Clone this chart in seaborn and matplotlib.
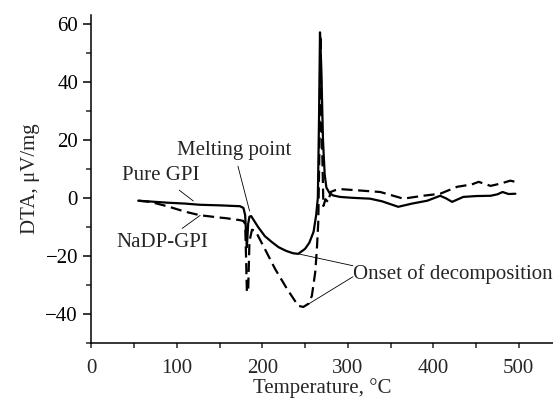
import numpy as np
import pandas as pd
import matplotlib
matplotlib.use("Agg")
import matplotlib.pyplot as plt
from matplotlib.ticker import MultipleLocator
import seaborn as sns

# DTA curves (temperature in deg C, signal in uV/mg)
pure_temp = [55, 70, 90, 110, 127, 150, 174, 178, 180, 181, 182, 183.5, 185, 187,
             195, 203, 211, 219, 228, 236, 242, 250, 255, 260, 263, 265, 266.5, 267.5,
             269, 271, 273, 275, 279, 283, 291, 305, 326, 340, 359, 375, 393, 408,
             415, 422, 435, 450, 467, 475, 481, 488, 496]
pure_dta = [-1.0, -1.3, -1.7, -2.0, -2.4, -2.6, -2.9, -3.5, -6.0, -12.0, -17.0, -9.0,
            -6.5, -6.3, -10.0, -13.2, -15.2, -17.0, -18.3, -19.1, -19.3, -17.6, -15.5,
            -11.7, -6.0, 0.0, 30.0, 57.0, 45.0, 20.0, 8.0, 3.5, 1.5, 0.8, 0.3, 0.0, -0.3,
            -1.2, -3.1, -2.0, -1.0, 0.7, -0.2, -1.4, 0.3, 0.6, 0.7, 1.2, 2.0, 1.3, 1.4]

nadp_temp = [55, 69, 90, 110, 127, 150, 157, 174, 178, 180, 181, 182, 183.5, 185, 188,
             192, 203, 215, 229, 242, 248, 254, 258, 262, 264, 265.5, 267, 268, 269.5,
             271.5, 274, 277, 280, 285, 291, 310, 338, 365, 388, 408, 428, 445, 453,
             467, 480, 490, 496]
nadp_dta = [-1.0, -1.4, -3.0, -4.8, -6.0, -6.8, -7.0, -7.7, -8.0, -9.0, -20.0, -32.4,
            -32.4, -15.0, -11.0, -11.4, -17.6, -24.5, -31.4, -37.2, -37.6, -36.5,
            -33.8, -25.5, -17.0, -8.3, 20.0, 56.0, 25.0, -2.8, -0.5, -1.5, 2.0, 2.6, 3.0,
            2.6, 2.0, -0.3, 0.7, 1.4, 3.8, 4.6, 5.5, 4.1, 5.0, 5.9, 5.5]

pure_df = pd.DataFrame({"Temperature": pure_temp, "DTA": pure_dta})
nadp_df = pd.DataFrame({"Temperature": nadp_temp, "DTA": nadp_dta})

sns.set_style("ticks")
plt.rcParams["font.family"] = ["Liberation Serif", "DejaVu Serif"]

fig = plt.figure(figsize=(5.53, 4.03), dpi=100)
ax = fig.add_axes([0.165, 0.149, 0.835, 0.814])

sns.lineplot(data=pure_df, x="Temperature", y="DTA", ax=ax, color="black",
             linewidth=1.6, estimator=None, sort=False)
sns.lineplot(data=nadp_df, x="Temperature", y="DTA", ax=ax, color="black",
             linewidth=1.6, linestyle=(0, (5, 2.5)), estimator=None, sort=False)

ax.set_xlim(0, 540)
ax.set_ylim(-50, 63)
ax.xaxis.set_major_locator(MultipleLocator(100))
ax.xaxis.set_minor_locator(MultipleLocator(50))
ax.yaxis.set_minor_locator(MultipleLocator(10))
ax.set_yticks([-40, -20, 0, 20, 40, 60])
ax.set_yticklabels(["\u221240", "\u221220", "0", "20", "40", "60"])

ax.tick_params(axis="y", which="major", direction="out", length=6, width=1.1,
               labelsize=15, colors="black")
ax.tick_params(axis="y", which="minor", direction="out", length=3.6, width=1.1)
ax.tick_params(axis="x", which="both", direction="out", length=3.6, width=1.1,
               labelsize=15, pad=8)

sns.despine(ax=ax)
for side in ["left", "bottom"]:
    ax.spines[side].set_linewidth(1.1)
    ax.spines[side].set_color("black")

ax.set_xlabel("Temperature, \u00b0C", fontsize=15, labelpad=0)
ax.set_ylabel("DTA, \u03bcV/mg", fontsize=15, labelpad=4)

# annotations with thin leader lines
lead = dict(arrowstyle="-", color="black", linewidth=0.6)
ax.annotate("Melting point", xy=(186, -5.5), xytext=(100, 16.2), fontsize=15,
            ha="left", va="center", arrowprops=lead)
ax.annotate("Pure GPI", xy=(122, -1.7), xytext=(81, 7.6), fontsize=15,
            ha="center", va="center", arrowprops=lead)
ax.annotate("NaDP-GPI", xy=(130, -5.5), xytext=(83, -15.5), fontsize=15,
            ha="center", va="center", arrowprops=lead)
ax.text(306, -26.2, "Onset of decomposition", fontsize=15, ha="left", va="center",
        clip_on=False)
ax.plot([242, 306], [-19.3, -23.4], color="black", linewidth=0.6)
ax.plot([254, 306], [-36.6, -27.2], color="black", linewidth=0.6)

fig.savefig("out.png", dpi=100)
